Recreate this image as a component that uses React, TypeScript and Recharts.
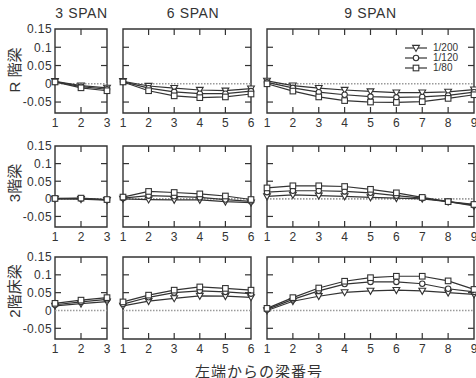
import React from 'react';
import { LineChart, Line, XAxis, YAxis, ReferenceLine, ReferenceArea, Legend } from 'recharts';

const floorLabels = ['R 階梁', '3階梁', '2階床梁'];
const spanTitles = ['3 SPAN', '6 SPAN', '9 SPAN'];
const driftLabels = ['1/200', '1/120', '1/80'];
const beams3 = [1, 2, 3];
const beams6 = [1, 2, 3, 4, 5, 6];
const beams9 = [1, 2, 3, 4, 5, 6, 7, 8, 9];
const yTicks = [-0.05, 0, 0.05, 0.1, 0.15];

// R階梁
const r3_200 = [0.007, -0.005, -0.011];
const r3_120 = [0.006, -0.008, -0.015];
const r3_80 = [0.005, -0.011, -0.019];
const r6_200 = [0.007, -0.006, -0.012, -0.017, -0.019, -0.013];
const r6_120 = [0.006, -0.012, -0.022, -0.027, -0.027, -0.02];
const r6_80 = [0.005, -0.019, -0.033, -0.038, -0.036, -0.028];
const r9_200 = [0.008, -0.005, -0.012, -0.017, -0.021, -0.024, -0.024, -0.022, -0.016];
const r9_120 = [0.004, -0.011, -0.023, -0.03, -0.035, -0.037, -0.036, -0.032, -0.023];
const r9_80 = [0.0, -0.02, -0.036, -0.046, -0.05, -0.051, -0.049, -0.04, -0.03];

// 3階梁
const f3s3_200 = [0.0, -0.001, -0.004];
const f3s3_120 = [0.0, 0.001, -0.003];
const f3s3_80 = [0.001, 0.002, -0.002];
const f3s6_200 = [0.0, -0.002, -0.003, -0.003, -0.008, -0.011];
const f3s6_120 = [0.002, 0.009, 0.007, 0.004, -0.002, -0.007];
const f3s6_80 = [0.005, 0.021, 0.018, 0.014, 0.008, -0.002];
const f3s9_200 = [0.007, 0.011, 0.009, 0.007, 0.004, 0.002, 0.0, -0.008, -0.02];
const f3s9_120 = [0.019, 0.023, 0.023, 0.021, 0.017, 0.009, 0.002, -0.008, -0.018];
const f3s9_80 = [0.031, 0.037, 0.037, 0.035, 0.027, 0.017, 0.004, -0.008, -0.016];

// 2階床梁
const f2s3_200 = [0.013, 0.019, 0.025];
const f2s3_120 = [0.016, 0.024, 0.031];
const f2s3_80 = [0.02, 0.029, 0.036];
const f2s6_200 = [0.013, 0.026, 0.034, 0.041, 0.04, 0.037];
const f2s6_120 = [0.018, 0.037, 0.05, 0.055, 0.052, 0.047];
const f2s6_80 = [0.024, 0.043, 0.057, 0.066, 0.062, 0.057];
const f2s9_200 = [0.0, 0.026, 0.04, 0.051, 0.055, 0.057, 0.055, 0.05, 0.045];
const f2s9_120 = [0.003, 0.031, 0.055, 0.074, 0.08, 0.08, 0.075, 0.061, 0.052];
const f2s9_80 = [0.006, 0.036, 0.063, 0.082, 0.092, 0.096, 0.096, 0.083, 0.059];

const beamTicks = [beams3, beams6, beams9];
const values = [
  [[r3_200, r3_120, r3_80], [r6_200, r6_120, r6_80], [r9_200, r9_120, r9_80]],
  [[f3s3_200, f3s3_120, f3s3_80], [f3s6_200, f3s6_120, f3s6_80], [f3s9_200, f3s9_120, f3s9_80]],
  [[f2s3_200, f2s3_120, f2s3_80], [f2s6_200, f2s6_120, f2s6_80], [f2s9_200, f2s9_120, f2s9_80]],
];

// panel boxes in page pixels
const colX = [[55, 107], [123, 251], [267, 474]];
const rowY = [[29, 113], [146, 227], [257, 339]];
const ML = 44;
const MR = 8;
const MT = 10;
const MB = 22;

const INK = '#333';
const FONT = '"Liberation Sans", Arial, "Noto Sans CJK JP", sans-serif';
const shapes = ['tri', 'circle', 'square'];

const Marker = ({ kind, cx, cy }: { kind: string; cx: number; cy: number }) => {
  const common = { fill: '#fff', stroke: INK, strokeWidth: 1.1 };
  if (kind === 'tri')
    return <polygon points={`${cx - 3.4},${cy - 2.6} ${cx + 3.4},${cy - 2.6} ${cx},${cy + 3.4}`} {...common} />;
  if (kind === 'circle') return <circle cx={cx} cy={cy} r={2.7} {...common} />;
  return <rect x={cx - 2.8} y={cy - 2.8} width={5.6} height={5.6} {...common} />;
};

const dotFor = (kind: string) => (p: any) => {
  if (p.cx == null || p.cy == null) return <g key={p.index} />;
  return (
    <g key={p.index}>
      <Marker kind={kind} cx={p.cx} cy={p.cy} />
    </g>
  );
};

const renderLegend = () => (
  <div style={{ fontFamily: FONT, fontSize: 10, color: '#333' }}>
    {driftLabels.map((d, i) => (
      <div key={d} style={{ display: 'flex', alignItems: 'center', height: 10, lineHeight: '10px' }}>
        <svg width={24} height={10}>
          <line x1={1} x2={23} y1={5} y2={5} stroke={INK} strokeWidth={1.2} />
          <Marker kind={shapes[i]} cx={12} cy={5} />
        </svg>
        <span style={{ marginLeft: 5 }}>{d}</span>
      </div>
    ))}
  </div>
);

const Panel = ({ row, col }: { row: number; col: number }) => {
  const [x0, x1] = colX[col];
  const [y0, y1] = rowY[row];
  const bw = x1 - x0;
  const bh = y1 - y0;
  const ticks = beamTicks[col];
  const n = ticks.length;
  const series = values[row][col];
  const data = ticks.map((b, i) => ({ beam: b, s0: series[0][i], s1: series[1][i], s2: series[2][i] }));

  const renderXTick = (p: any) => {
    const v = p.payload.value;
    const inner = v !== ticks[0] && v !== ticks[n - 1];
    return (
      <g>
        <text x={p.x} y={MT + bh + 14} textAnchor="middle" fontSize={12} fill="#333" fontFamily={FONT}>
          {v}
        </text>
        {inner && <line x1={p.x} x2={p.x} y1={MT + bh} y2={MT + bh - 6} stroke={INK} strokeWidth={1.2} />}
        {inner && <line x1={p.x} x2={p.x} y1={MT} y2={MT + 6} stroke={INK} strokeWidth={1.2} />}
      </g>
    );
  };

  const renderYTick = (p: any) => {
    const v = p.payload.value;
    const mark = v !== 0 && v !== 0.15;
    return (
      <g>
        {col === 0 && (
          <text x={ML - 3} y={p.y + 4.3} textAnchor="end" fontSize={12} letterSpacing={0.4} fill="#333" fontFamily={FONT}>
            {v}
          </text>
        )}
        {mark && <line x1={ML} x2={ML + 6} y1={p.y} y2={p.y} stroke={INK} strokeWidth={1.2} />}
        {mark && <line x1={ML + bw - 6} x2={ML + bw} y1={p.y} y2={p.y} stroke={INK} strokeWidth={1.2} />}
      </g>
    );
  };

  return (
    <div style={{ position: 'absolute', left: x0 - ML, top: y0 - MT }}>
      <LineChart width={bw + ML + MR} height={bh + MT + MB} data={data} margin={{ top: MT, right: MR, bottom: 0, left: 0 }}>
        <XAxis
          dataKey="beam"
          type="number"
          domain={[ticks[0], ticks[n - 1]]}
          ticks={ticks}
          interval={0}
          height={MB}
          tickLine={false}
          axisLine={false}
          tick={renderXTick}
        />
        <YAxis
          type="number"
          domain={[-0.08, 0.15]}
          ticks={yTicks}
          interval={0}
          width={ML}
          allowDataOverflow
          tickLine={false}
          axisLine={false}
          tick={renderYTick}
        />
        <ReferenceLine y={0} stroke="#9a9a9a" strokeWidth={1.6} strokeDasharray="1.5 1.5" />
        <ReferenceArea x1={ticks[0]} x2={ticks[n - 1]} y1={-0.08} y2={0.15} fill="none" stroke={INK} strokeWidth={1.4} />
        {shapes.map((s, i) => (
          <Line
            key={s}
            type="linear"
            dataKey={`s${i}`}
            name={driftLabels[i]}
            stroke={INK}
            strokeWidth={1.2}
            dot={dotFor(s)}
            activeDot={false}
            isAnimationActive={false}
          />
        ))}
        {row === 0 && col === 2 && (
          <Legend
            layout="vertical"
            align="center"
            verticalAlign="middle"
            content={renderLegend}
            wrapperStyle={{ left: 404 - (x0 - ML), top: 43 - (y0 - MT), width: 62, height: 30 }}
          />
        )}
      </LineChart>
    </div>
  );
};

const floorCenters = [70, 183, 291];
const spanCenters = [81.5, 193, 370.5];

export default function App() {
  return (
    <div style={{ position: 'absolute', left: 0, top: 0, width: 476, height: 378, background: '#fff', overflow: 'hidden' }}>
      <svg width={476} height={378} style={{ position: 'absolute', left: 0, top: 0 }}>
        {spanTitles.map((t, i) => (
          <text key={t} x={spanCenters[i]} y={18} textAnchor="middle" fontSize={14} letterSpacing={0.6} fill="#333" fontFamily={FONT}>
            {t}
          </text>
        ))}
        {floorLabels.map((t, i) => (
          <text
            key={t}
            x={14.5}
            y={floorCenters[i]}
            textAnchor="middle"
            dominantBaseline="central"
            fontSize={15}
            fill="#333"
            fontFamily={FONT}
            transform={`rotate(-90, 14.5, ${floorCenters[i]})`}
          >
            {t}
          </text>
        ))}
        <text x={259} y={371} textAnchor="middle" dominantBaseline="central" fontSize={15} letterSpacing={1} fill="#333" fontFamily={FONT}>
          左端からの梁番号
        </text>
      </svg>
      {[0, 1, 2].map((r) => [0, 1, 2].map((c) => <Panel key={`${r}-${c}`} row={r} col={c} />))}
    </div>
  );
}
